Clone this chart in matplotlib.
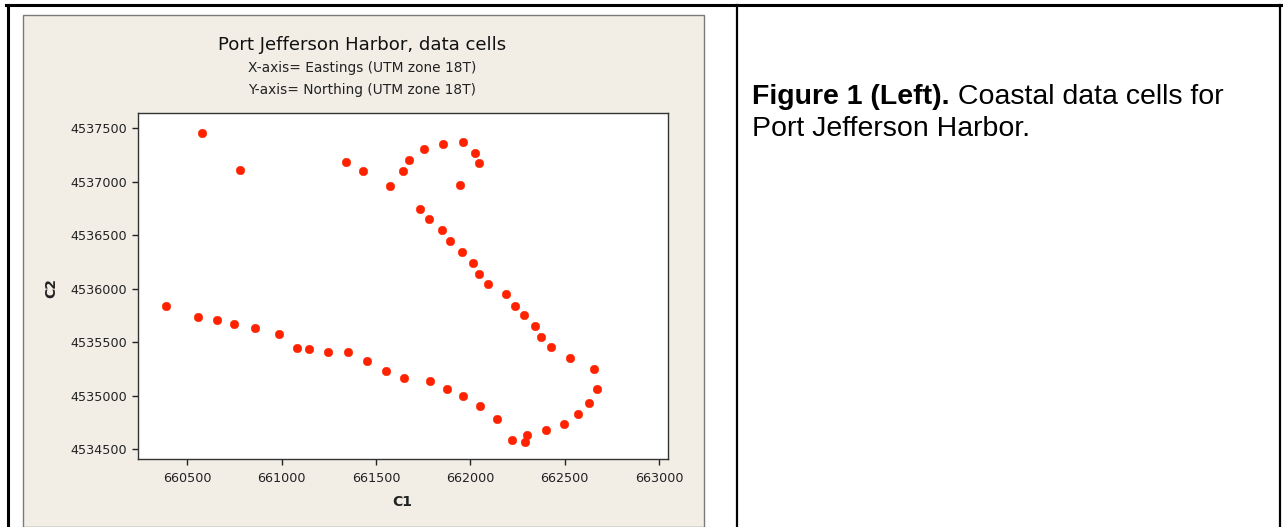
import matplotlib
matplotlib.use("Agg")
import matplotlib.pyplot as plt
from matplotlib.lines import Line2D
from matplotlib.patches import Rectangle

# ---- data (UTM eastings / northings of coastal data cells) ----
easting = [
    660576, 660781,
    661341, 661434, 661574, 661642, 661674, 661755, 661856, 661962, 662024, 662045, 661944,
    661736, 661780, 661851, 661895, 661957, 662013, 662045, 662096, 662190, 662239,
    662283, 662345, 662377, 662428, 662529, 662654,
    662674, 662628, 662573, 662497, 662404, 662303, 662290, 662221,
    662144, 662050, 661962, 661876, 661788, 661648, 661554, 661453, 661353, 661245,
    661145, 661083, 660987, 660857, 660749, 660656, 660555, 660386,
]
northing = [
    4537459, 4537110,
    4537188, 4537098, 4536958, 4537098, 4537201, 4537304, 4537356, 4537369, 4537266, 4537176, 4536970,
    4536743, 4536650, 4536550, 4536444, 4536341, 4536238, 4536138, 4536048, 4535949, 4535842,
    4535752, 4535650, 4535547, 4535456, 4535353, 4535253,
    4535061, 4534930, 4534827, 4534736, 4534674, 4534627, 4534568, 4534584,
    4534777, 4534905, 4534995, 4535061, 4535136, 4535164, 4535229, 4535319, 4535409, 4535409,
    4535431, 4535444, 4535575, 4535636, 4535674, 4535711, 4535739, 4535842,
]
x_ticks = [660500, 661000, 661500, 662000, 662500, 663000]
y_ticks = [4534500, 4535000, 4535500, 4536000, 4536500, 4537000, 4537500]

title = "Port Jefferson Harbor, data cells"
subtitle1 = "X-axis= Eastings (UTM zone 18T)"
subtitle2 = "Y-axis= Northing (UTM zone 18T)"
caption_bold = "Figure 1 (Left)."
caption_rest = " Coastal data cells for"
caption_line2 = "Port Jefferson Harbor."

W, H = 1283, 527
fig = plt.figure(figsize=(W / 100, H / 100), dpi=100, facecolor="white")

def fx(px):
    return px / W

def fy(py):
    return 1 - py / H

# beige chart panel
fig.add_artist(Rectangle((fx(23), 0), fx(704) - fx(23), fy(15), transform=fig.transFigure,
                         facecolor="#F2EEE6", edgecolor="#7a7a7a", linewidth=1.0, zorder=0))

# table borders
for (x0, y0, x1, y1, lw) in [(6, 5, 1281, 5, 2.2), (8, 5, 8, 527, 2.2),
                              (737, 5, 737, 527, 1.6), (1280, 5, 1280, 527, 1.6)]:
    fig.add_artist(Line2D([fx(x0), fx(x1)], [fy(y0), fy(y1)], transform=fig.transFigure,
                          color="black", linewidth=lw, zorder=1))

ax = fig.add_axes([fx(138), fy(459.3), fx(668) - fx(138), fy(113) - fy(459.3)])
ax.set_facecolor("white")
ax.plot(easting, northing, linestyle="none", marker="o", markersize=6.2,
        markerfacecolor="#FF2200", markeredgecolor="#FF2200", markeredgewidth=0.3)
ax.set_xlim(660239, 663048)
ax.set_ylim(4534404, 4537643)
ax.set_xticks(x_ticks)
ax.set_yticks(y_ticks)
ax.set_xticklabels([str(v) for v in x_ticks])
ax.set_yticklabels([str(v) for v in y_ticks])
ax.tick_params(axis="both", direction="out", length=4, width=1, color="#222222",
               labelsize=9.2, labelcolor="#222222")
ax.tick_params(axis="x", pad=5)
ax.tick_params(axis="y", pad=4)
for s in ax.spines.values():
    s.set_color("#333333")
    s.set_linewidth(1.0)

fig.text(fx(402), fy(502), "C1", ha="center", va="center", fontsize=10, fontweight="bold",
         color="#222222")
fig.text(fx(51), fy(288), "C2", ha="center", va="center", fontsize=10, fontweight="bold",
         rotation=90, color="#222222")

fig.text(fx(362), fy(45), title, ha="center", va="center", fontsize=13.1, color="#111111")
fig.text(fx(362), fy(68), subtitle1, ha="center", va="center", fontsize=9.9, color="#222222")
fig.text(fx(362), fy(90), subtitle2, ha="center", va="center", fontsize=9.9, color="#222222")

cap_font = ["Liberation Sans", "DejaVu Sans"]
cap_size = 20.5
tb = fig.text(fx(752), fy(97), caption_bold, ha="left", va="center", fontsize=cap_size,
              fontweight="bold", family=cap_font)
fig.canvas.draw()
bb = tb.get_window_extent(renderer=fig.canvas.get_renderer())
fig.text(bb.x1 / W, fy(97), caption_rest, ha="left", va="center", fontsize=cap_size,
         family=cap_font)
fig.text(fx(752), fy(129), caption_line2, ha="left", va="center", fontsize=cap_size,
         family=cap_font)

fig.savefig("out.png", dpi=100, facecolor="white")
